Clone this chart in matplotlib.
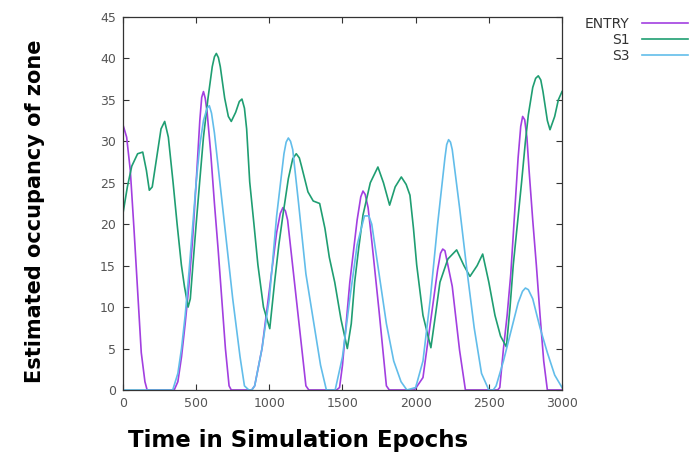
import matplotlib
matplotlib.use('Agg')
import matplotlib.pyplot as plt

## Värden (epok, skattad beläggning)
entry_x = [0, 25, 50, 75, 100, 125, 150, 165, 350, 375, 400, 425, 450, 475, 500, 525, 538, 550, 562, 575,
           600, 625, 650, 675, 700, 725, 740, 880, 900, 950, 1000, 1050, 1075, 1093, 1110, 1125, 1150, 1200,
           1250, 1270, 1460, 1480, 1500, 1550, 1600, 1625, 1640, 1655, 1675, 1700, 1750, 1800, 1820, 1990,
           2000, 2050, 2100, 2150, 2170, 2185, 2200, 2250, 2300, 2340, 2560, 2575, 2600, 2625, 2650, 2675,
           2700, 2718, 2731, 2745, 2760, 2775, 2800, 2825, 2850, 2875, 2900, 3000]
entry_y = [32, 30.5, 26.5, 19.5, 12, 4.5, 1, 0, 0, 1, 4, 8, 12.5, 18, 25, 32.5, 35.3, 36, 35.2, 33.5,
           28.5, 22.5, 17, 11, 5, 0.5, 0, 0, 0.5, 5, 12, 19, 21.3, 22, 21.6, 20.5, 16.5, 8.5,
           0.5, 0, 0, 0.3, 3, 13, 20.5, 23.3, 24, 23.6, 22, 18, 9.5, 0.5, 0, 0,
           0.2, 1.5, 8, 14.5, 16.5, 17, 16.8, 12.5, 4.8, 0, 0, 0.3, 5, 9, 14, 21,
           28, 31.8, 33, 32.6, 30.5, 26.5, 20.5, 15, 9, 3.5, 0, 0]

s1_x = [0, 30, 60, 100, 135, 160, 180, 200, 230, 260, 285, 310, 342, 370, 399, 420, 445, 460, 478, 500,
        524, 550, 581, 610, 625, 638, 652, 665, 695, 720, 740, 770, 795, 813, 830, 845, 866, 895, 922, 960,
        1003, 1036, 1065, 1093, 1130, 1160, 1184, 1205, 1220, 1264, 1300, 1344, 1380, 1410, 1447, 1490,
        1533, 1560, 1583, 1610, 1640, 1690, 1742, 1780, 1822, 1860, 1902, 1935, 1961, 1985, 2007, 2050,
        2104, 2135, 2166, 2220, 2280, 2330, 2371, 2420, 2458, 2500, 2542, 2580, 2620, 2645, 2667, 2695,
        2724, 2750, 2770, 2800, 2820, 2838, 2855, 2870, 2900, 2918, 2950, 2975, 3000]
s1_y = [21.3, 24.5, 27, 28.5, 28.7, 26.5, 24.1, 24.5, 28, 31.5, 32.4, 30.5, 25.1, 20, 15.1, 12.5, 10, 11, 15.1, 20,
        25.1, 30.5, 35.2, 39, 40.2, 40.6, 40.1, 39, 35.2, 33, 32.4, 33.5, 34.8, 35.1, 34, 31.5, 25.1, 20, 15.1, 10,
        7.4, 13, 17.5, 21.1, 25.5, 27.9, 28.5, 28, 27, 23.9, 22.8, 22.5, 19.5, 16, 13, 8.5,
        5, 8, 13, 17, 21.1, 25, 26.9, 25, 22.3, 24.5, 25.7, 24.8, 23.5, 19.5, 15.1, 9,
        5.1, 9, 13, 15.8, 16.9, 15, 13.7, 15, 16.4, 13, 9, 6.5, 5.2, 10, 15.1, 20,
        25.1, 30, 33.2, 36.5, 37.6, 37.9, 37.4, 36, 32.5, 31.4, 33, 35, 36]

s3_x = [0, 340, 375, 400, 425, 450, 475, 500, 525, 550, 575, 590, 605, 625, 650, 675, 700, 725, 750, 775,
        800, 830, 860, 880, 900, 950, 1000, 1050, 1100, 1115, 1130, 1145, 1160, 1200, 1250, 1300, 1350,
        1390, 1450, 1500, 1550, 1600, 1650, 1680, 1700, 1750, 1800, 1850, 1900, 1940, 2000, 2050, 2100,
        2150, 2200, 2212, 2225, 2238, 2250, 2300, 2350, 2400, 2450, 2500, 2530, 2550, 2600, 2650, 2700,
        2730, 2750, 2770, 2800, 2850, 2900, 2950, 3000]
s3_y = [0, 0, 2, 5, 9, 14, 19.5, 25, 29.5, 32.5, 34, 34.3, 33.4, 31, 27, 23, 19, 15, 11, 7.5,
        4, 0.5, 0, 0, 0.5, 5, 11, 21, 28.5, 29.9, 30.4, 30, 29, 22.5, 14, 8.5, 3,
        0, 0, 4, 11, 17.5, 21, 21, 20, 14, 8, 3.5, 1, 0, 0.3, 3.5, 11,
        20, 28, 29.6, 30.2, 29.9, 29, 22, 14.5, 7.5, 2, 0, 0, 0.5, 3.5, 7, 10.5,
        11.9, 12.3, 12.1, 11, 7.5, 4.5, 1.8, 0.3]

x_ticks = [0, 500, 1000, 1500, 2000, 2500, 3000]
y_ticks = [0, 5, 10, 15, 20, 25, 30, 35, 40, 45]

fig = plt.figure(figsize=(6.94, 4.54), dpi=100)
ax = fig.add_axes([0.1772, 0.1410, 0.6326, 0.8216])

ax.plot(entry_x, entry_y, color='#a23fe0', lw=1.2, label='ENTRY')
ax.plot(s1_x, s1_y, color='#1f9e72', lw=1.2, label='S1')
ax.plot(s3_x, s3_y, color='#62bdea', lw=1.2, label='S3')

ax.set_xlim(0, 3000)
ax.set_ylim(0, 45)
ax.set_xticks(x_ticks)
ax.set_yticks(y_ticks)
ax.tick_params(direction='in', length=4, width=0.8, top=True, right=True,
               labelsize=9, labelcolor='#555555', color='#333333', pad=5)
for s in ax.spines.values():
    s.set_color('#333333')
    s.set_linewidth(0.9)

fig.text(298 / 694, 1 - 441 / 454, 'Time in Simulation Epochs', ha='center', va='center',
         fontsize=16.5, fontweight='heavy', color='black')
fig.text(35 / 694, 1 - 211 / 454, 'Estimated occupancy of zone', ha='center', va='center',
         rotation=90, fontsize=15, fontweight='heavy', color='black')

fig.legend(loc='upper right', bbox_to_anchor=(688 / 694, 1 - 17 / 454), frameon=False,
           markerfirst=False, fontsize=10, handlelength=3.3, handletextpad=0.9,
           labelspacing=0.15, borderpad=0, borderaxespad=0, labelcolor='#333333')

fig.savefig('out.png', dpi=100)
